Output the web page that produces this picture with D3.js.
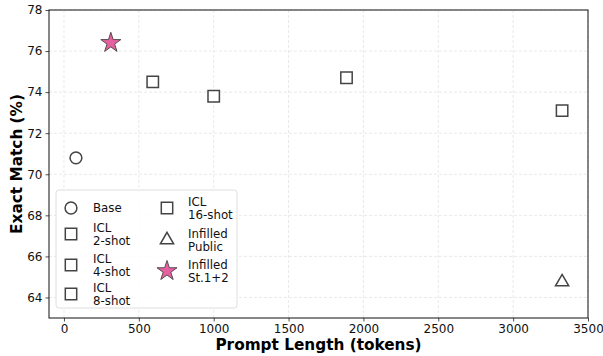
<!DOCTYPE html>
<html>
<head>
<meta charset="utf-8">
<script src="https://cdn.jsdelivr.net/npm/d3@7"></script>
<style>
body { margin: 0; background: white; }
text { font-family: "DejaVu Sans", sans-serif; }
</style>
</head>
<body>
<svg id="chart" width="603" height="356"></svg>
<script>
// data
var labels = ["Base", "ICL\n2-shot", "ICL\n4-shot", "ICL\n8-shot", "ICL\n16-shot", "Infilled\nPublic", "Infilled\nSt.1+2"];
var markers = ["circle", "square", "square", "square", "square", "triangle", "star"];
var promptLength = [80, 593, 1000, 1887, 3327, 3327, 313];
var exactMatch = [70.8, 74.5, 73.8, 74.7, 73.1, 64.8, 76.4];
var xTicks = [0, 500, 1000, 1500, 2000, 2500, 3000, 3500];
var yTicks = [64, 66, 68, 70, 72, 74, 76, 78];

var svg = d3.select("#chart");
var margin = {left: 49, right: 15, top: 10, bottom: 38};
var width = 603 - margin.left - margin.right,
	height = 356 - margin.top - margin.bottom;

var x = d3.scaleLinear().domain([-100, 3500]).range([0, width]);
var y = d3.scaleLinear().domain([63, 78]).range([height, 0]);

var g = svg.append("g")
	.attr("transform", "translate(" + margin.left + "," + margin.top + ")");

// grid
g.selectAll(".gx").data(xTicks).enter().append("line")
	.attr("x1", d => x(d)).attr("x2", d => x(d))
	.attr("y1", 0).attr("y2", height)
	.attr("stroke", "#e3e3e3").attr("stroke-width", 0.8)
	.attr("stroke-dasharray", "3,2");
g.selectAll(".gy").data(yTicks).enter().append("line")
	.attr("x1", 0).attr("x2", width)
	.attr("y1", d => y(d)).attr("y2", d => y(d))
	.attr("stroke", "#e3e3e3").attr("stroke-width", 0.8)
	.attr("stroke-dasharray", "3,2");

// axes
var xAxis = g.append("g")
	.attr("transform", "translate(0," + height + ")")
	.call(d3.axisBottom(x).tickValues(xTicks).tickFormat(d3.format("d")).tickSize(3.5).tickPadding(3));
var yAxis = g.append("g")
	.call(d3.axisLeft(y).tickValues(yTicks).tickFormat(d3.format("d")).tickSize(3.5).tickPadding(3));
[xAxis, yAxis].forEach(function(a){
	a.select(".domain").remove();
	a.selectAll("text").style("font-size", "12px").attr("fill", "#111");
	a.selectAll("line").attr("stroke", "#222").attr("stroke-width", 0.8);
});

g.append("rect")
	.attr("x", 0).attr("y", 0)
	.attr("width", width).attr("height", height)
	.attr("fill", "none").attr("stroke", "#111").attr("stroke-width", 1);

// axis labels
svg.append("text")
	.attr("x", margin.left + width / 2).attr("y", 350)
	.attr("text-anchor", "middle")
	.style("font-size", "15.3px").style("font-weight", "bold")
	.text("Prompt Length (tokens)");
svg.append("text")
	.attr("transform", "translate(22," + (margin.top + height / 2) + ") rotate(-90)")
	.attr("text-anchor", "middle")
	.style("font-size", "15.3px").style("font-weight", "bold")
	.text("Exact Match (%)");

// markers
function markerPath(type) {
	if (type == "circle") return d3.symbol().type(d3.symbolCircle).size(110)();
	if (type == "square") return d3.symbol().type(d3.symbolSquare).size(130)();
	if (type == "triangle") return d3.symbol().type(d3.symbolTriangle2).size(125)();
	return d3.symbol().type(d3.symbolStar).size(125)();
}
function drawMarker(sel, type) {
	sel.append("path")
		.attr("d", markerPath(type))
		.attr("fill", type == "star" ? "#e5609f" : "white")
		.attr("stroke", "#444")
		.attr("stroke-width", type == "star" ? 0.9 : 1.5);
}

promptLength.forEach(function(d, i){
	var p = g.append("g")
		.attr("transform", "translate(" + x(d) + "," + y(exactMatch[i]) + ")" + (markers[i] == "triangle" ? " translate(0,1)" : ""));
	drawMarker(p, markers[i]);
});

// legend
var legend = svg.append("g").attr("transform", "translate(56,190)");
legend.append("rect")
	.attr("x", 0).attr("y", 0)
	.attr("width", 181).attr("height", 118)
	.attr("rx", 3).attr("ry", 3)
	.attr("fill", "white").attr("fill-opacity", 0.85)
	.attr("stroke", "#d5d5d5").attr("stroke-width", 0.8);

var col1Rows = [18, 44, 75, 104];
var col2Rows = [18, 50, 81];
labels.forEach(function(lab, i){
	var col = i < 4 ? 0 : 1;
	var cy = col == 0 ? col1Rows[i] : col2Rows[i - 4];
	var mx = col == 0 ? 15 : 111;
	var tx = col == 0 ? 37 : 132;
	var m = legend.append("g").attr("transform", "translate(" + mx + "," + cy + ")");
	drawMarker(m, markers[i]);
	var lines = lab.split("\n");
	var t = legend.append("text")
		.attr("x", tx)
		.attr("y", cy - (lines.length - 1) * 6.5)
		.attr("dominant-baseline", "central")
		.style("font-size", "11.8px").attr("fill", "#111");
	lines.forEach(function(l, k){
		t.append("tspan").attr("x", tx).attr("dy", k == 0 ? 0 : 13).text(l);
	});
});
</script>
</body>
</html>
